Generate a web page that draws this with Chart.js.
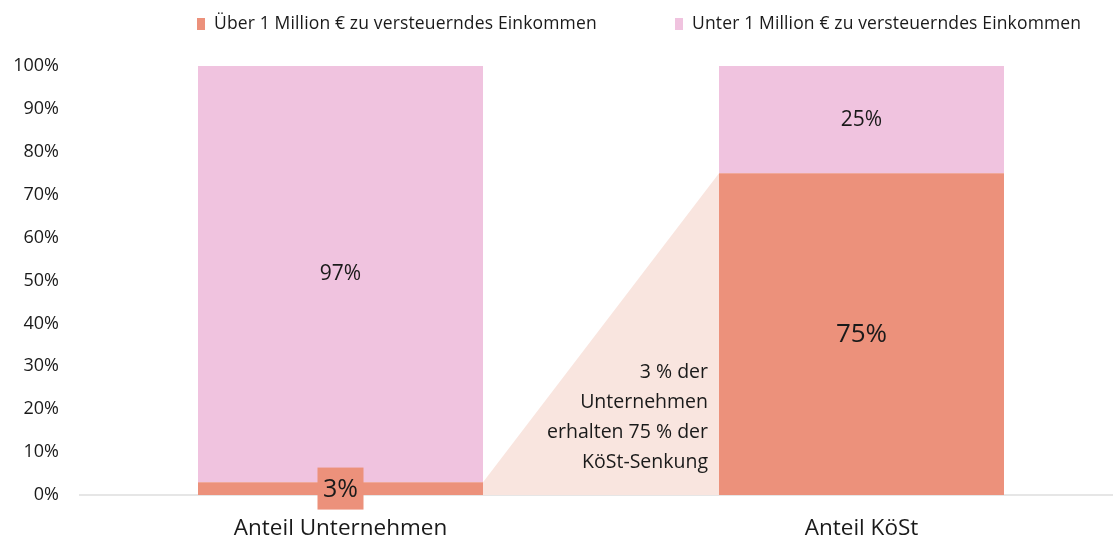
<!DOCTYPE html>
<html>
<head>
<meta charset="utf-8">
<script src="https://cdn.jsdelivr.net/npm/chart.js@4"></script>
<style>
  body { margin: 0; background: #fff; overflow: hidden; font-family: "Open Sans", sans-serif; }
  #wrap { position: relative; width: 1113px; height: 540px; overflow: hidden; }
  #box { position: absolute; left: 0; top: 0; width: 1122px; height: 540px; }
  #legend { position: absolute; top: 10px; left: 0; width: 1113px; font-size: 17.5px; color: #1a1a1a; letter-spacing: 0.15px; }
  #legend span.item { position: absolute; top: 0; white-space: nowrap; }
  #legend i { display: inline-block; width: 8px; height: 12px; margin-right: 9px; vertical-align: -1px; }
</style>
</head>
<body>
<div id="wrap">
  <div id="box"><canvas id="myChart"></canvas></div>
  <div id="legend"></div>
</div>
<script>
const categories = ["Anteil Unternehmen", "Anteil KöSt"]
const overValues = [3, 75]
const underValues = [97, 25]
const seriesNames = ["Über 1 Million € zu versteuerndes Einkommen", "Unter 1 Million € zu versteuerndes Einkommen"]
const noteLines = ["3 % der", "Unternehmen", "erhalten 75 % der", "KöSt-Senkung"]

const orange = '#EC917B'
const pink = '#F0C3DF'
const wedge = '#F9E5DF'
const ink = '#1a1a1a'
const fam = '"Open Sans"'

// legend (html)
const legendPos = [197, 675]
const leg = document.getElementById('legend')
seriesNames.forEach((n, i) => {
    const s = document.createElement('span')
    s.className = 'item'
    s.style.left = legendPos[i] + 'px'
    s.innerHTML = '<i style="background:' + [orange, pink][i] + '"></i>' + n
    leg.appendChild(s)
})

// wedge from small orange segment to big one
const wedgePlugin = {
    id: 'wedge',
    beforeDatasetsDraw(chart) {
        const meta = chart.getDatasetMeta(0)
        const a = meta.data[0], b = meta.data[1]
        const y0 = chart.scales.y.getPixelForValue(0)
        const c = chart.ctx
        c.save()
        c.fillStyle = wedge
        c.beginPath()
        c.moveTo(a.x + a.width / 2, a.y)
        c.lineTo(b.x - b.width / 2, b.y)
        c.lineTo(b.x - b.width / 2, y0)
        c.lineTo(a.x + a.width / 2, y0)
        c.closePath()
        c.fill()
        c.restore()
    }
}

const labelPlugin = {
    id: 'labels',
    afterDatasetsDraw(chart) {
        const c = chart.ctx
        const m0 = chart.getDatasetMeta(0), m1 = chart.getDatasetMeta(1)
        c.save()
        c.textAlign = 'center'
        c.textBaseline = 'middle'
        c.fillStyle = ink
        // under segments
        m1.data.forEach((el, i) => {
            c.font = '21px ' + fam
            c.fillText(underValues[i] + '%', el.x, (el.y + el.base) / 2)
        })
        // over segments
        m0.data.forEach((el, i) => {
            const cy = (el.y + el.base) / 2
            if (overValues[i] < 10) {
                c.fillStyle = orange
                c.fillRect(el.x - 23, cy - 21, 46, 42)
                c.fillStyle = ink
                c.font = '25px ' + fam
                c.fillText(overValues[i] + '%', el.x, cy + 1)
            } else {
                c.font = '26px ' + fam
                c.fillText(overValues[i] + '%', el.x, cy)
            }
        })
        // note text
        const b = m0.data[1]
        const y0 = chart.scales.y.getPixelForValue(0)
        c.textAlign = 'right'
        c.font = '19.5px ' + fam
        noteLines.forEach((t, i) => {
            c.fillText(t, b.x - b.width / 2 - 11, y0 - 33 - (noteLines.length - 1 - i) * 29.7)
        })
        c.restore()
    }
}

ctx = document.getElementById('myChart').getContext('2d')

window.chart = new Chart(ctx, {
    type: 'bar',
    data: {
        labels: categories,
        datasets: [
            { label: seriesNames[0], data: overValues, backgroundColor: orange, barPercentage: 1, categoryPercentage: 0.547 },
            { label: seriesNames[1], data: underValues, backgroundColor: pink, barPercentage: 1, categoryPercentage: 0.547 }
        ]
    },
    options: {
        responsive: true,
        maintainAspectRatio: false,
        animation: false,
        layout: { padding: { top: 66, right: 0, left: 0, bottom: 0 } },
        plugins: { legend: { display: false }, tooltip: { enabled: false } },
        scales: {
            x: {
                stacked: true,
                grid: { display: false },
                border: { color: '#e6e6e6', width: 2 },
                ticks: { color: ink, font: { family: 'Open Sans', size: 22.5 }, padding: 12 },
                afterFit: s => { s.height = 45 }
            },
            y: {
                stacked: true,
                min: 0, max: 100,
                grid: { display: false },
                border: { display: false },
                ticks: { stepSize: 10, color: ink, font: { family: 'Open Sans', size: 18 }, padding: 13, callback: v => v + '%' },
                afterFit: s => { s.width = 80 }
            }
        }
    },
    plugins: [wedgePlugin, labelPlugin]
})
</script>
</body>
</html>
